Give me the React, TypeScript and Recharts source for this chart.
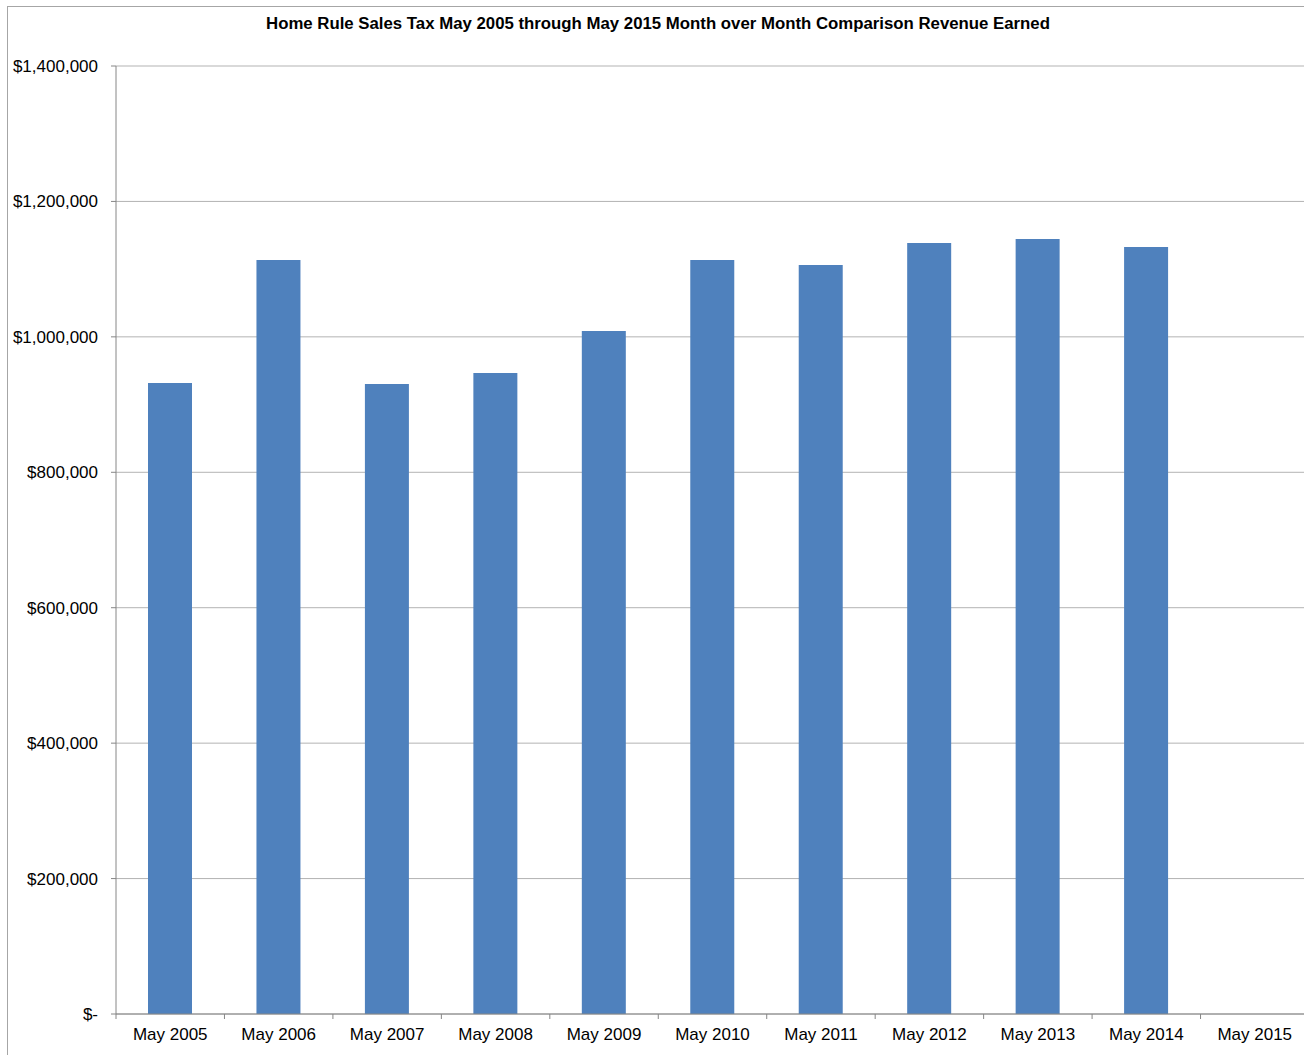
import React from 'react';
import { BarChart, Bar, XAxis, YAxis, CartesianGrid } from 'recharts';

const months = [
  'May 2005', 'May 2006', 'May 2007', 'May 2008', 'May 2009', 'May 2010',
  'May 2011', 'May 2012', 'May 2013', 'May 2014', 'May 2015',
];
const revenue: (number | null)[] = [
  932000, 1113500, 930400, 946600, 1008700, 1113500,
  1106100, 1138600, 1144500, 1132700, null,
];
const yTicks = [0, 200000, 400000, 600000, 800000, 1000000, 1200000, 1400000];

const data = months.map((m, i) => ({ month: m, revenue: revenue[i] }));

const PAGE_W = 1304;
const PAGE_H = 1055;
// plot area runs a few px past the right edge of the picture, as in the original
const CHART_W = 1309;
const MARGIN = { top: 66, right: 0, left: 0, bottom: 0 };
const Y_AXIS_W = 116;
const X_AXIS_H = 41;
const BAND = (CHART_W - Y_AXIS_W - MARGIN.right) / months.length;

const fmtMoney = (v: number) => (v === 0 ? '$-' : '$' + v.toLocaleString('en-US'));

// label centred in the band, tick mark on the band's left edge (Excel style)
const XTick = (props: any) => {
  const { x, y, payload } = props;
  const edge = x - BAND / 2;
  return (
    <g>
      <line x1={edge} y1={y - 8} x2={edge} y2={y - 3} stroke="#868686" />
      <text x={x} y={y + 18} textAnchor="middle" fontSize={17} fill="#000">
        {payload.value}
      </text>
    </g>
  );
};

export default function App() {
  return (
    <div
      style={{
        position: 'absolute',
        left: 0,
        top: 0,
        width: PAGE_W,
        height: PAGE_H,
        overflow: 'hidden',
        background: '#fff',
        fontFamily: '"Liberation Sans", Arial, sans-serif',
      }}
    >
      <div
        style={{
          position: 'absolute',
          left: 7,
          top: 6,
          width: PAGE_W,
          height: PAGE_H,
          borderLeft: '1px solid #a6a6a6',
          borderTop: '1px solid #a6a6a6',
        }}
      />
      <div
        style={{
          position: 'absolute',
          left: 0,
          top: 14,
          width: 1316,
          textAlign: 'center',
          fontWeight: 'bold',
          fontSize: 16.8,
          color: '#000',
        }}
      >
        Home Rule Sales Tax May 2005 through May 2015 Month over Month Comparison Revenue Earned
      </div>
      <div style={{ position: 'absolute', left: 0, top: 0 }}>
        <BarChart width={CHART_W} height={PAGE_H} data={data} margin={MARGIN}>
          <CartesianGrid vertical={false} stroke="#b3b3b3" />
          <XAxis
            dataKey="month"
            tickLine={false}
            axisLine={{ stroke: '#868686' }}
            tick={<XTick />}
            interval={0}
            height={X_AXIS_H}
          />
          <YAxis
            width={Y_AXIS_W}
            domain={[0, 1400000]}
            ticks={yTicks}
            tickFormatter={fmtMoney}
            axisLine={{ stroke: '#868686' }}
            tickLine={{ stroke: '#868686' }}
            tickSize={5}
            tickMargin={13}
            tick={{ fontSize: 17, fill: '#000' }}
            interval={0}
          />
          <Bar dataKey="revenue" fill="#4F81BD" barSize={44} isAnimationActive={false} />
        </BarChart>
      </div>
    </div>
  );
}
